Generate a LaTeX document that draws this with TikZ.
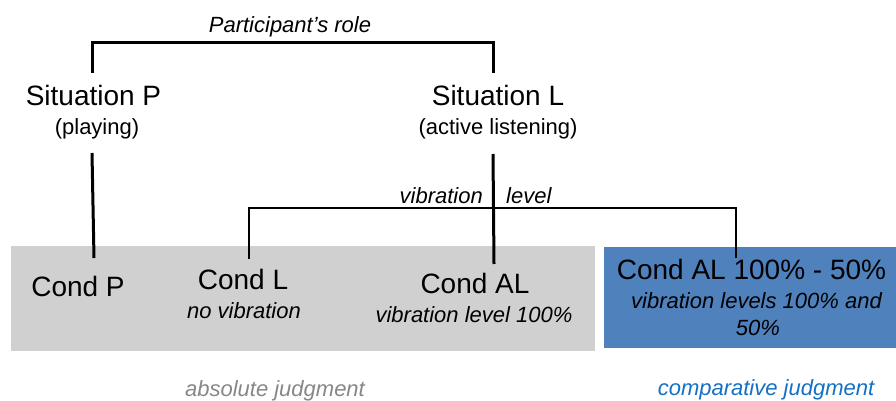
\documentclass[tikz,border=0pt]{standalone}
\usepackage{fontspec}
\setmainfont{Liberation Sans}
\usepackage{tikz}
\usetikzlibrary{positioning, calc}

\definecolor{boxgray}{RGB}{208,208,208}
\definecolor{boxblue}{RGB}{79,129,189}
\definecolor{notegray}{RGB}{135,135,135}
\definecolor{noteblue}{RGB}{20,112,196}

\begin{document}
\begin{tikzpicture}[x=1pt, y=-1pt,
    big/.style={anchor=base, inner sep=0pt, font=\fontsize{28}{30}\selectfont},
    small/.style={anchor=base, inner sep=0pt, font=\fontsize{22}{26}\selectfont},
    emph/.style={small, font=\fontsize{22}{26}\selectfont\itshape},
    link/.style={line width=3pt, line cap=butt}]
          \useasboundingbox (0,0) rectangle (896,401);

          % condition panels
          \fill[boxgray] (11,246) rectangle (595,351);
          \fill[boxblue] (604,247) rectangle (896,348);

          % participant's role
          \node[emph] (role) at (290,33) {Participant’s role};
          \node[big] (sitP) at (93.5,106) {Situation P};
          \node[small] (playP) at (97,135) {(playing)};
          \node[big] (sitL) at (498,106) {Situation L};
          \node[small] (listL) at (498,135) {(active listening)};

          % conditions
          \node[big] (condP) at (78,296) {Cond P};
          \node[big] (condL) at (243,289) {Cond L};
          \node[emph] (novib) at (244,318) {no vibration};
          \node[big] (condAL) at (475,293) {Cond AL};
          \node[emph] (vibAL) at (474,322) {vibration level 100\%};
          \node[big] (condCmp) at (751.5,279) {Cond AL 100\% - 50\%};
          \node[emph] (vibCmp) at (756.5,308) {vibration levels 100\% and};
          \node[emph] (vibCmpB) at (758,335) {50\%};

          \node[emph, anchor=base east] (vibW) at (483,203) {vibration};
          \node[emph, anchor=base west] (levelW) at (506,203) {level};

          \node[emph, text=notegray] (absJ) at (275,396) {absolute judgment};
          \node[emph, text=noteblue] (cmpJ) at (766,395) {comparative judgment};

          % bracket ends
          \coordinate (pUp) at (92,73);
          \coordinate (lUp) at (493,73);
          \coordinate (pDown) at (92,153);
          \coordinate (pEnd) at (94,258);
          \coordinate (lDown) at (493,154);
          \coordinate (lEnd) at (494,264);
          \coordinate (vL) at (249,259);
          \coordinate (vR) at (736,258);

          \draw[link] (pUp) -- (pUp |- 0,43) -| (lUp);
          \draw[link] (pDown) -- (pEnd);
          \draw[link] (lDown) -- (lEnd);
          \draw[link, line width=2.7pt] (vL) -- (vL |- 0,208) -| (vR);
        \end{tikzpicture}
\end{document}
